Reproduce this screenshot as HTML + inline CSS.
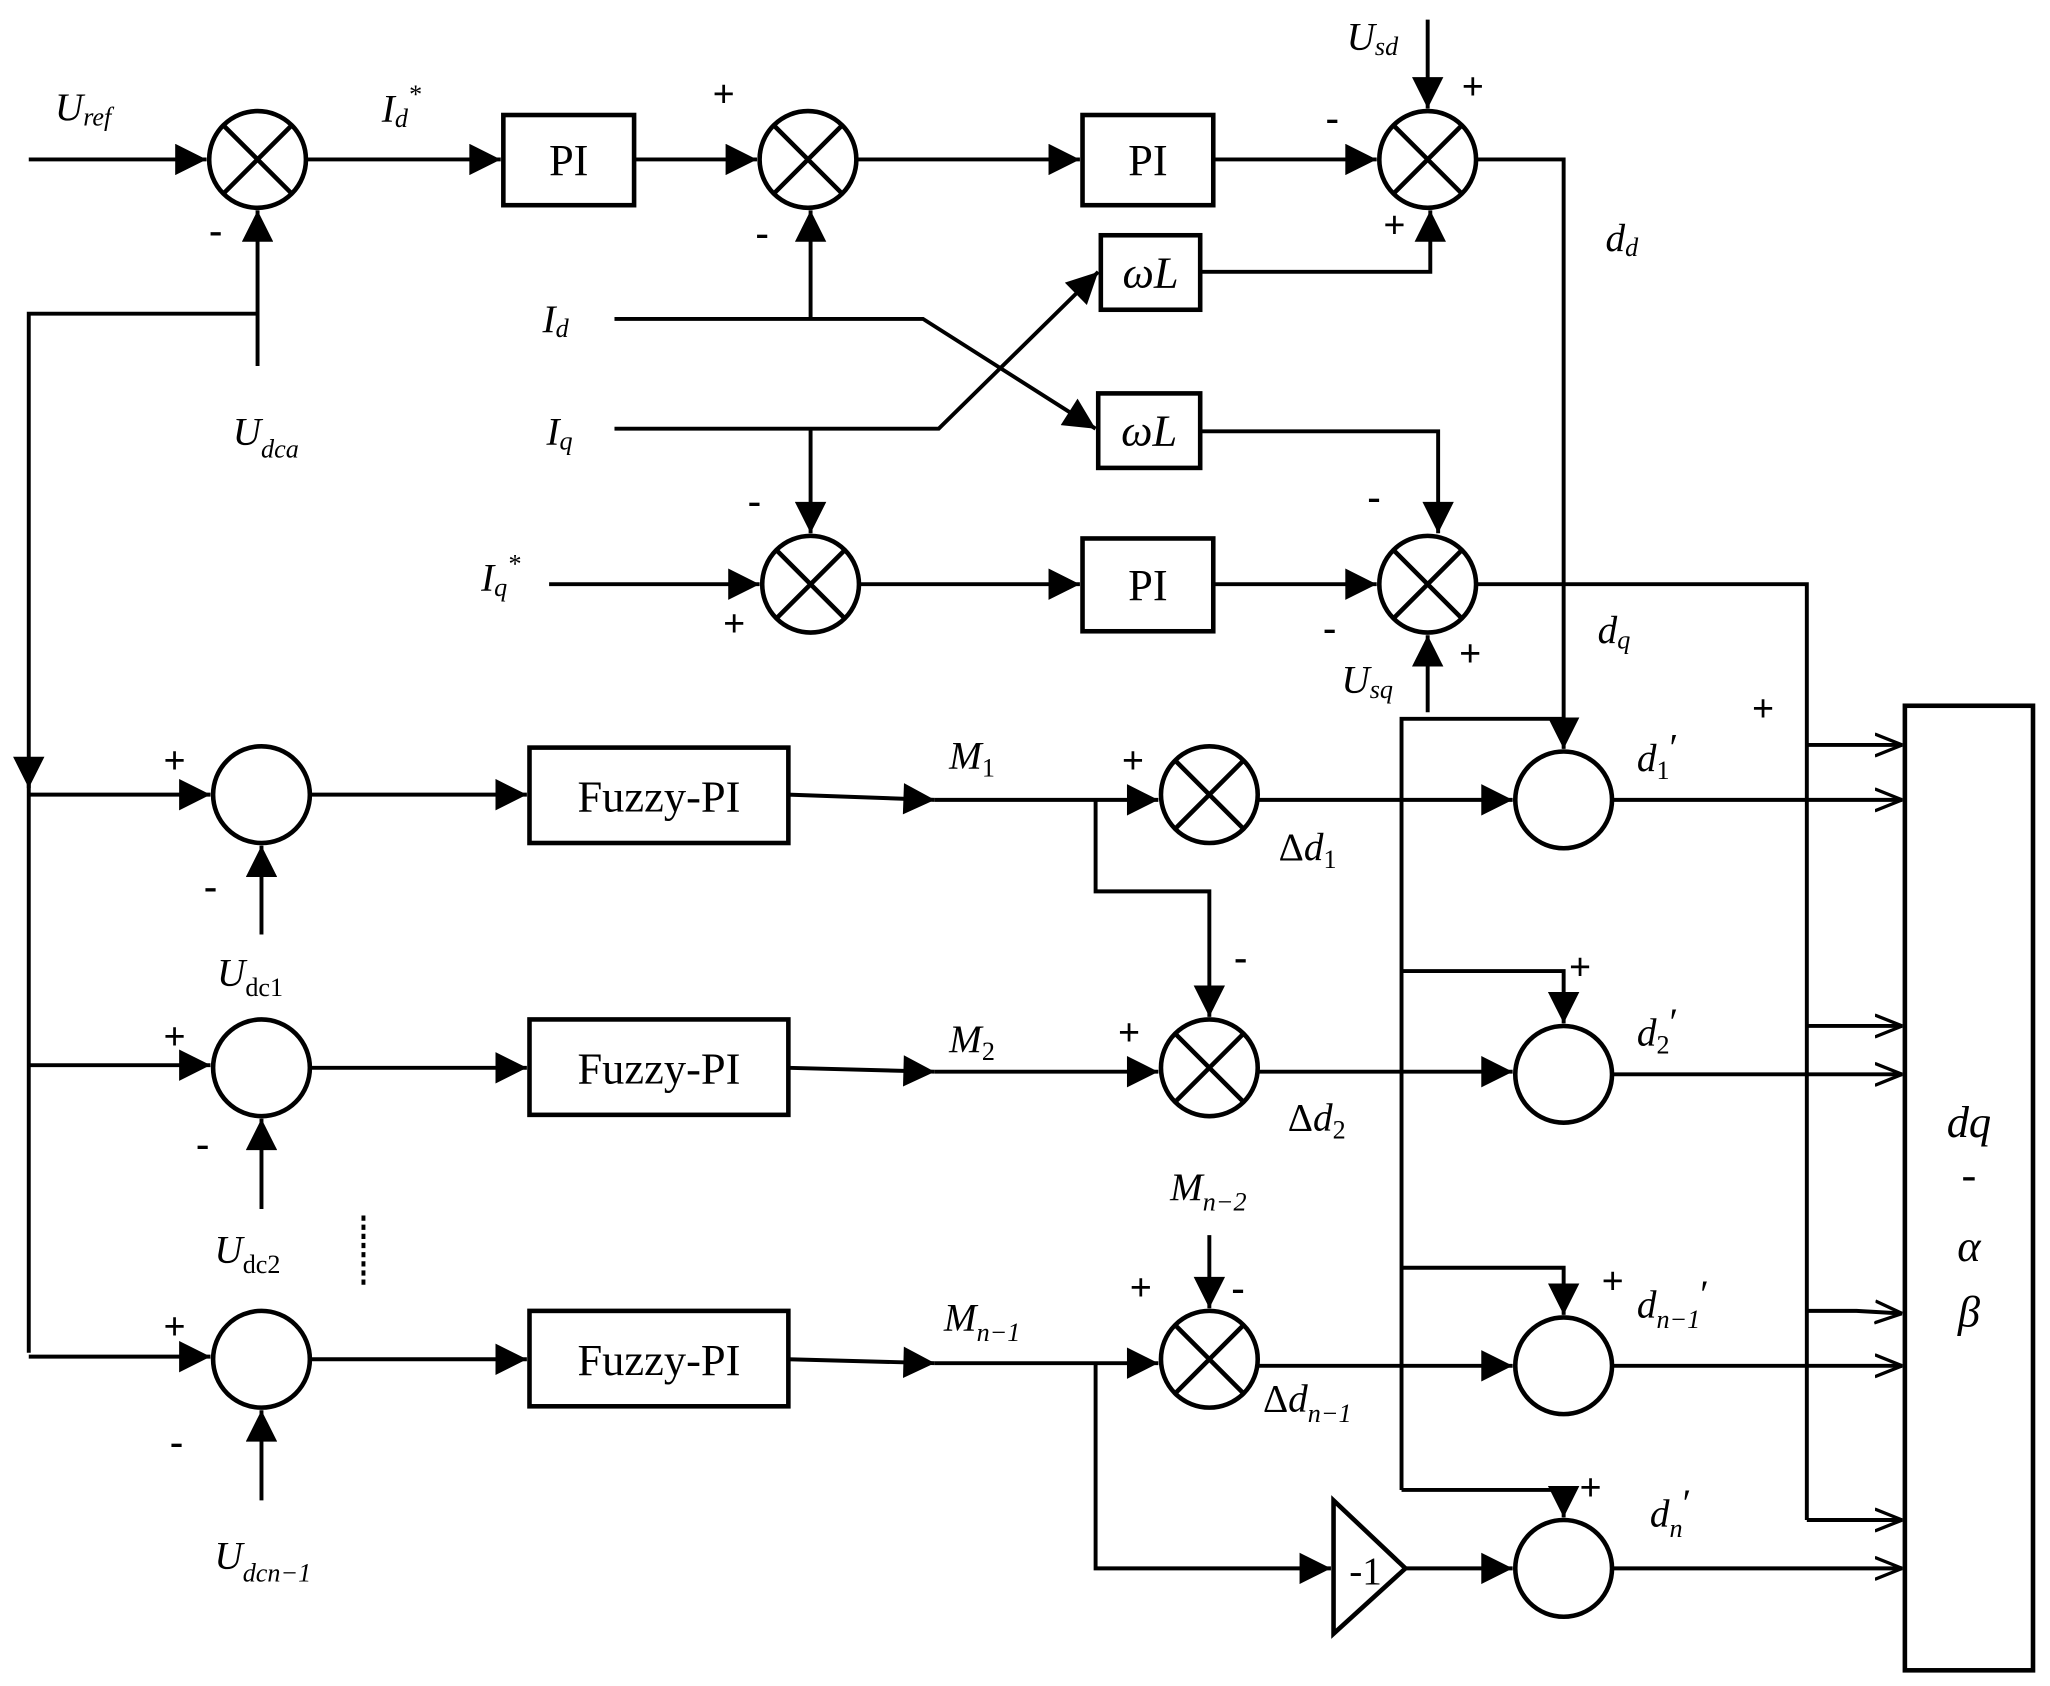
<!DOCTYPE html>
<html><head><meta charset="utf-8"><style>
html,body{margin:0;padding:0;background:#fff}
svg{display:block}
text{font-family:"Liberation Serif","Times New Roman",serif;fill:#000}
.i{font-style:italic}
</style></head><body>
<svg width="2050" height="1686" viewBox="0 0 1568 1290" preserveAspectRatio="none" xmlns="http://www.w3.org/2000/svg">
<defs>
<marker id="a" viewBox="0 0 10 10" refX="10" refY="5" markerWidth="11" markerHeight="8" markerUnits="strokeWidth" orient="auto"><path d="M0,0 L10,5 L0,10 z" fill="#000"/></marker>
<marker id="o" viewBox="0 0 10 10" refX="10" refY="5" markerWidth="7" markerHeight="7" markerUnits="strokeWidth" orient="auto"><path d="M0,1 L10,5 L0,9" fill="none" stroke="#000" stroke-width="1.2"/></marker>
</defs>
<g fill="none" stroke="#000" stroke-width="3.5">
<circle cx="197" cy="122" r="37"/><path d="M171,96 L223,148 M223,96 L171,148"/>
<circle cx="618" cy="122" r="37"/><path d="M592,96 L644,148 M644,96 L592,148"/>
<circle cx="1092" cy="122" r="37"/><path d="M1066,96 L1118,148 M1118,96 L1066,148"/>
<circle cx="620" cy="447" r="37"/><path d="M594,421 L646,473 M646,421 L594,473"/>
<circle cx="1092" cy="447" r="37"/><path d="M1066,421 L1118,473 M1118,421 L1066,473"/>
<circle cx="925" cy="608" r="37"/><path d="M899,582 L951,634 M951,582 L899,634"/>
<circle cx="925" cy="817" r="37"/><path d="M899,791 L951,843 M951,791 L899,843"/>
<circle cx="925" cy="1040" r="37"/><path d="M899,1014 L951,1066 M951,1014 L899,1066"/>
<circle cx="200" cy="608" r="37"/><circle cx="200" cy="817" r="37"/><circle cx="200" cy="1040" r="37"/>
<circle cx="1196" cy="612" r="37"/><circle cx="1196" cy="822" r="37"/><circle cx="1196" cy="1045" r="37"/><circle cx="1196" cy="1200" r="37"/>
<rect x="385" y="88" width="100" height="69"/><rect x="828" y="88" width="100" height="69"/><rect x="828" y="412" width="100" height="71"/>
<rect x="842" y="180" width="76" height="57"/><rect x="840" y="301" width="78" height="57"/>
<rect x="405" y="572" width="198" height="73"/><rect x="405" y="780" width="198" height="73"/><rect x="405" y="1003" width="198" height="73"/>
<rect x="1457" y="540" width="98" height="738"/>
<path d="M1020,1148 L1075,1200 L1020,1250 Z"/>
</g>
<g fill="none" stroke="#000" stroke-width="3">
<path d="M22,122 H158" marker-end="url(#a)"/>
<path d="M234,122 H383" marker-end="url(#a)"/>
<path d="M485,122 H579" marker-end="url(#a)"/>
<path d="M655,122 H826" marker-end="url(#a)"/>
<path d="M928,122 H1053" marker-end="url(#a)"/>
<path d="M1092,15 V83" marker-end="url(#a)"/>
<path d="M1129,122 H1196 V573" marker-end="url(#a)"/>
<path d="M197,280 V161" marker-end="url(#a)"/>
<path d="M197,240 H22 V603" marker-end="url(#a)"/>
<path d="M22,600 V1035"/>
<path d="M470,244 H706 L838,328" marker-end="url(#a)"/>
<path d="M620,244 V161" marker-end="url(#a)"/>
<path d="M470,328 H718 L840,208" marker-end="url(#a)"/>
<path d="M620,328 V408" marker-end="url(#a)"/>
<path d="M918,208 H1094 V161" marker-end="url(#a)"/>
<path d="M918,330 H1100 V408" marker-end="url(#a)"/>
<path d="M420,447 H581" marker-end="url(#a)"/>
<path d="M657,447 H826" marker-end="url(#a)"/>
<path d="M928,447 H1053" marker-end="url(#a)"/>
<path d="M1092,545 V486" marker-end="url(#a)"/>
<path d="M1129,447 H1382 V1163"/>
<path d="M1382,570 H1455" marker-end="url(#o)"/>
<path d="M1382,785 H1455" marker-end="url(#o)"/>
<path d="M1382,1003 H1420 L1455,1005" marker-end="url(#o)"/>
<path d="M1382,1163 H1455" marker-end="url(#o)"/>
<path d="M1233,612 H1455" marker-end="url(#o)"/>
<path d="M1233,822 H1455" marker-end="url(#o)"/>
<path d="M1233,1045 H1455" marker-end="url(#o)"/>
<path d="M1233,1200 H1455" marker-end="url(#o)"/>
<path d="M1072,1140 V550 H1196"/>
<path d="M1072,743 H1196 V783" marker-end="url(#a)"/>
<path d="M1072,970 H1196 V1006" marker-end="url(#a)"/>
<path d="M1072,1140 H1196 V1161" marker-end="url(#a)"/>
<path d="M22,608 H161" marker-end="url(#a)"/>
<path d="M22,815 H161" marker-end="url(#a)"/>
<path d="M22,1038 H161" marker-end="url(#a)"/>
<path d="M200,715 V647" marker-end="url(#a)"/>
<path d="M200,925 V856" marker-end="url(#a)"/>
<path d="M200,1148 V1079" marker-end="url(#a)"/>
<path d="M237,608 H403" marker-end="url(#a)"/>
<path d="M237,817 H403" marker-end="url(#a)"/>
<path d="M237,1040 H403" marker-end="url(#a)"/>
<path d="M603,608 L715,612" marker-end="url(#a)"/>
<path d="M715,612 H886" marker-end="url(#a)"/>
<path d="M603,817 L715,820" marker-end="url(#a)"/>
<path d="M715,820 H886" marker-end="url(#a)"/>
<path d="M603,1040 L715,1043" marker-end="url(#a)"/>
<path d="M715,1043 H886" marker-end="url(#a)"/>
<path d="M838,612 V682 H925 V778" marker-end="url(#a)"/>
<path d="M925,945 V1001" marker-end="url(#a)"/>
<path d="M838,1043 V1200 H1018" marker-end="url(#a)"/>
<path d="M1075,1200 H1157" marker-end="url(#a)"/>
<path d="M962,612 H1157" marker-end="url(#a)"/>
<path d="M962,820 H1157" marker-end="url(#a)"/>
<path d="M962,1045 H1157" marker-end="url(#a)"/>
<path d="M278,930 V985" stroke-dasharray="4,3"/>
</g>
<g font-size="34">
<text x="435" y="134" text-anchor="middle">PI</text>
<text x="878" y="134" text-anchor="middle">PI</text>
<text x="878" y="459" text-anchor="middle">PI</text>
<text x="880" y="220" text-anchor="middle" class="i">ωL</text>
<text x="879" y="341" text-anchor="middle" class="i">ωL</text>
<text x="504" y="621" text-anchor="middle">Fuzzy-PI</text>
<text x="504" y="829" text-anchor="middle">Fuzzy-PI</text>
<text x="504" y="1052" text-anchor="middle">Fuzzy-PI</text>
<text x="1032" y="1212" font-size="30">-1</text>
<text x="1506" y="870" text-anchor="middle" class="i">dq</text>
<text x="1506" y="910" text-anchor="middle">-</text>
<text x="1506" y="965" text-anchor="middle" class="i">α</text>
<text x="1506" y="1015" text-anchor="middle" class="i">β</text>
</g>
<g font-size="30" class="i">
<text x="42" y="92">U<tspan font-size="20" dy="4">ref</tspan></text>
<text x="292" y="93">I<tspan font-size="20" dy="4">d</tspan><tspan font-size="20" dy="-18">*</tspan></text>
<text x="1030" y="38">U<tspan font-size="20" dy="4">sd</tspan></text>
<text x="1228" y="192">d<tspan font-size="20" dy="4">d</tspan></text>
<text x="178" y="340">U<tspan font-size="20" dy="10">dca</tspan></text>
<text x="415" y="254">I<tspan font-size="20" dy="4">d</tspan></text>
<text x="418" y="340">I<tspan font-size="20" dy="4">q</tspan></text>
<text x="368" y="452">I<tspan font-size="20" dy="4">q</tspan><tspan font-size="20" dy="-18">*</tspan></text>
<text x="1026" y="530">U<tspan font-size="20" dy="4">sq</tspan></text>
<text x="1222" y="492">d<tspan font-size="20" dy="4">q</tspan></text>
<text x="166" y="754">U<tspan font-size="20" dy="8" font-style="normal">dc1</tspan></text>
<text x="164" y="966">U<tspan font-size="20" dy="8" font-style="normal">dc2</tspan></text>
<text x="164" y="1200">U<tspan font-size="20" dy="10">dcn−1</tspan></text>
<text x="726" y="588">M<tspan font-size="20" dy="6" font-style="normal">1</tspan></text>
<text x="726" y="805">M<tspan font-size="20" dy="6" font-style="normal">2</tspan></text>
<text x="722" y="1018">M<tspan font-size="20" dy="8">n−1</tspan></text>
<text x="895" y="918">M<tspan font-size="20" dy="8">n−2</tspan></text>
<text x="978" y="658"><tspan font-style="normal">Δ</tspan>d<tspan font-size="20" dy="6" font-style="normal">1</tspan></text>
<text x="985" y="865"><tspan font-style="normal">Δ</tspan>d<tspan font-size="20" dy="6" font-style="normal">2</tspan></text>
<text x="966" y="1080"><tspan font-style="normal">Δ</tspan>d<tspan font-size="20" dy="8">n−1</tspan></text>
<text x="1252" y="590">d<tspan font-size="20" dy="6" font-style="normal">1</tspan><tspan font-style="normal" dy="-14">′</tspan></text>
<text x="1252" y="800">d<tspan font-size="20" dy="6" font-style="normal">2</tspan><tspan font-style="normal" dy="-14">′</tspan></text>
<text x="1252" y="1008">d<tspan font-size="20" dy="8">n−1</tspan><tspan font-style="normal" dy="-16">′</tspan></text>
<text x="1262" y="1168">d<tspan font-size="20" dy="8">n</tspan><tspan font-style="normal" dy="-16">′</tspan></text>
</g>
<g font-size="30" font-weight="bold">
<text x="160" y="186">-</text>
<text x="545" y="82">+</text>
<text x="578" y="188">-</text>
<text x="1014" y="100">-</text>
<text x="1118" y="76">+</text>
<text x="1058" y="182">+</text>
<text x="572" y="393">-</text>
<text x="553" y="487">+</text>
<text x="1046" y="390">-</text>
<text x="1012" y="490">-</text>
<text x="1116" y="510">+</text>
<text x="1340" y="552">+</text>
<text x="125" y="592">+</text>
<text x="156" y="688">-</text>
<text x="125" y="803">+</text>
<text x="150" y="885">-</text>
<text x="125" y="1025">+</text>
<text x="130" y="1113">-</text>
<text x="858" y="592">+</text>
<text x="855" y="800">+</text>
<text x="944" y="742">-</text>
<text x="864" y="995">+</text>
<text x="942" y="995">-</text>
<text x="1200" y="750">+</text>
<text x="1225" y="990">+</text>
<text x="1208" y="1148">+</text>
</g>
</svg>
</body></html>
